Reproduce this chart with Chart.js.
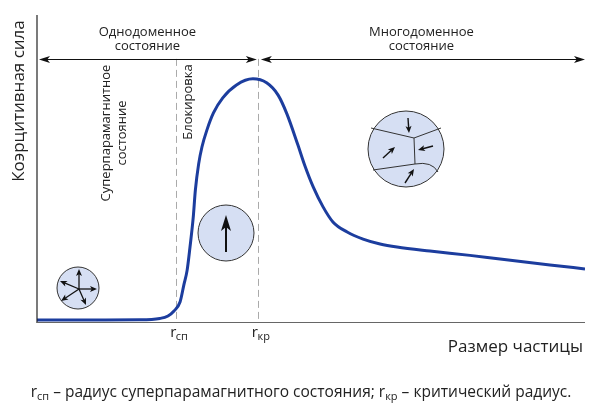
<!DOCTYPE html>
<html>
<head>
<meta charset="utf-8">
<script src="https://cdn.jsdelivr.net/npm/chart.js@4"></script>
<style>
  body { margin: 0; background: #fff; }
</style>
</head>
<body>
<canvas id="chart" width="600" height="415"></canvas>
<script>
// Particle size (arbitrary units across the axis) and coercive force (arbitrary units)
const particleSize = [0, 11.5, 18.8, 22.4, 23.9, 25.0, 26.1, 26.8, 27.4, 27.9, 28.5, 28.9, 29.5, 30.1, 31.0, 32.2, 33.9, 36.4, 39.4, 41.9, 44.0, 45.6, 47.6, 48.9, 50.4, 52.2, 54.0, 56.6, 59.5, 62.6, 65.7, 71.7, 79.0, 84.5, 93.6, 100];
const coercivity = [0.65, 0.65, 0.7, 1.14, 1.95, 3.58, 6.5, 12.1, 16.9, 24.1, 33.9, 43.0, 51.5, 57.0, 62.5, 68.1, 73.0, 77.2, 79.2, 77.9, 73.9, 67.8, 57.7, 50.8, 44.0, 37.5, 32.6, 29.3, 27.0, 25.4, 24.4, 23.1, 21.7, 20.5, 18.6, 17.3];

// Characteristic radii and their tick labels
const radii = [25.4, 40.3];
const tickLabels = ['r', 'r'];
const tickSubs = ['сп', 'кр'];
const arrowLevel = 85.7;

const regionLabels = [['Однодоменное', 'состояние'], ['Многодоменное', 'состояние']];
const yTitle = 'Коэрцитивная сила';
const xTitle = 'Размер частицы';
const FONT = '"Open Sans", sans-serif';

function arrowHead(ctx, x, y, angle, len, half) {
    ctx.save();
    ctx.translate(x, y);
    ctx.rotate(angle);
    ctx.beginPath();
    ctx.moveTo(0, 0);
    ctx.lineTo(-len, -half);
    ctx.lineTo(-len * 0.75, 0);
    ctx.lineTo(-len, half);
    ctx.closePath();
    ctx.fill();
    ctx.restore();
}

function arrow(ctx, x1, y1, x2, y2, w, len, half) {
    const a = Math.atan2(y2 - y1, x2 - x1);
    ctx.lineWidth = w;
    ctx.beginPath();
    ctx.moveTo(x1, y1);
    ctx.lineTo(x2 - Math.cos(a) * len * 0.7, y2 - Math.sin(a) * len * 0.7);
    ctx.stroke();
    arrowHead(ctx, x2, y2, a, len, half);
}

function disc(ctx, cx, cy, r) {
    ctx.beginPath();
    ctx.arc(cx, cy, r, 0, Math.PI * 2);
    ctx.fillStyle = '#d6dff3';
    ctx.fill();
    ctx.lineWidth = 1;
    ctx.strokeStyle = '#333';
    ctx.stroke();
}

const decor = {
    id: 'decor',
    beforeDatasetsDraw(chart) {
        const ctx = chart.ctx;
        const xs = chart.scales.x, ys = chart.scales.y;
        const top = ys.getPixelForValue(arrowLevel);
        const bottom = ys.getPixelForValue(0);
        ctx.save();
        ctx.strokeStyle = '#aaa';
        ctx.lineWidth = 1;
        ctx.setLineDash([7, 4]);
        radii.forEach(r => {
            const x = Math.round(xs.getPixelForValue(r)) + 0.5;
            ctx.beginPath();
            ctx.moveTo(x, top);
            ctx.lineTo(x, bottom);
            ctx.stroke();
        });
        ctx.restore();
    },
    afterDraw(chart) {
        const ctx = chart.ctx;
        const xs = chart.scales.x, ys = chart.scales.y;
        const x0 = xs.getPixelForValue(0), x1 = xs.getPixelForValue(100);
        const y0 = ys.getPixelForValue(0), y1 = ys.getPixelForValue(100);
        const xSp = xs.getPixelForValue(radii[0]);
        const xKr = xs.getPixelForValue(radii[1]);
        const yArr = Math.round(ys.getPixelForValue(arrowLevel)) + 0.5;
        ctx.save();

        // axes
        ctx.strokeStyle = '#222';
        ctx.lineWidth = 1.2;
        ctx.beginPath();
        ctx.moveTo(x0, y1);
        ctx.lineTo(x0, y0 + 1);
        ctx.stroke();
        ctx.strokeStyle = '#666';
        ctx.beginPath();
        ctx.moveTo(x0, y0 + 0.5);
        ctx.lineTo(x1, y0 + 0.5);
        ctx.stroke();

        // region arrows
        ctx.strokeStyle = '#111';
        ctx.fillStyle = '#111';
        arrow(ctx, xKr - 4, yArr, x0 + 2, yArr, 1, 11, 3.5);
        arrow(ctx, x0 + 6, yArr, xKr - 1, yArr, 1, 11, 3.5);
        arrow(ctx, x1 - 4, yArr, xKr + 3, yArr, 1, 11, 3.5);
        arrow(ctx, xKr + 8, yArr, x1, yArr, 1, 11, 3.5);

        // region titles
        ctx.fillStyle = '#222';
        ctx.font = '13px ' + FONT;
        ctx.textAlign = 'center';
        ctx.textBaseline = 'alphabetic';
        const centers = [(x0 + xKr) / 2, (xKr + x1) / 2];
        regionLabels.forEach((lines, i) => {
            lines.forEach((t, j) => ctx.fillText(t, centers[i], 36 + j * 14));
        });

        // rotated labels
        const vtext = (t, x, y, size) => {
            ctx.save();
            ctx.translate(x, y);
            ctx.rotate(-Math.PI / 2);
            ctx.font = size + 'px ' + FONT;
            ctx.textAlign = 'center';
            ctx.fillText(t, 0, 0);
            ctx.restore();
        };
        vtext(yTitle, 24, 101, 17);
        vtext('Суперпарамагнитное', 110, 133, 13);
        vtext('состояние', 126, 133, 13);
        vtext('Блокировка', xSp + 16, 102, 13);

        // x title
        ctx.font = '17px ' + FONT;
        ctx.textAlign = 'right';
        ctx.fillText(xTitle, x1 - 2, 352);

        // tick labels r_сп, r_кр
        radii.forEach((r, i) => {
            const x = xs.getPixelForValue(r);
            ctx.textAlign = 'left';
            ctx.font = '15px ' + FONT;
            const w1 = ctx.measureText(tickLabels[i]).width;
            const start = x - 6;
            ctx.fillText(tickLabels[i], start, 337);
            ctx.font = '11px ' + FONT;
            ctx.fillText(tickSubs[i], start + w1 - 0.5, 340);
        });

        // footer
        const parts = [
            ['r', 15.5, 0], ['сп', 11, 3], [' – радиус суперпарамагнитного состояния; ', 15.5, 0],
            ['r', 15.5, 0], ['кр', 11, 3], [' – критический радиус.', 15.5, 0]
        ];
        let total = 0;
        parts.forEach(p => { ctx.font = p[1] + 'px ' + FONT; total += ctx.measureText(p[0]).width; });
        let fx = 301 - total / 2;
        ctx.textAlign = 'left';
        parts.forEach(p => {
            ctx.font = p[1] + 'px ' + FONT;
            ctx.fillText(p[0], fx, 397 + p[2]);
            fx += ctx.measureText(p[0]).width;
        });

        // particle icons
        disc(ctx, 78, 288, 21);
        ctx.strokeStyle = '#111';
        ctx.fillStyle = '#111';
        [[79, 269], [97, 289], [86, 305], [61, 301], [60, 281]].forEach(p => arrow(ctx, 79, 289, p[0], p[1], 1.3, 7, 3));

        disc(ctx, 226, 233, 28);
        ctx.strokeStyle = '#111';
        ctx.fillStyle = '#111';
        arrow(ctx, 226, 252, 226, 215, 2, 16, 5);

        disc(ctx, 406, 149, 38);
        ctx.strokeStyle = '#333';
        ctx.lineWidth = 1;
        ctx.beginPath();
        ctx.moveTo(371, 128);
        ctx.lineTo(414, 138);
        ctx.lineTo(441, 128);
        ctx.moveTo(414, 138);
        ctx.lineTo(415, 164);
        ctx.moveTo(373, 170);
        ctx.lineTo(415, 164);
        ctx.quadraticCurveTo(432, 161, 438, 172);
        ctx.stroke();
        ctx.strokeStyle = '#111';
        ctx.fillStyle = '#111';
        arrow(ctx, 408, 118, 409, 133, 1.4, 7, 3);
        arrow(ctx, 383, 158, 395, 147, 1.4, 7, 3);
        arrow(ctx, 433, 146, 418, 150, 1.4, 7, 3);
        arrow(ctx, 405, 183, 414, 169, 1.4, 7, 3);

        ctx.restore();
    }
};

new Chart(document.getElementById('chart'), {
    type: 'line',
    data: {
        datasets: [{
            data: particleSize.map((x, i) => ({ x: x, y: coercivity[i] })),
            borderColor: '#1c3d9e',
            borderWidth: 3,
            pointRadius: 0,
            cubicInterpolationMode: 'monotone',
            fill: false
        }]
    },
    options: {
        responsive: false,
        animation: false,
        layout: { padding: { left: 37, right: 15, top: 15, bottom: 93 } },
        plugins: { legend: { display: false }, tooltip: { enabled: false } },
        scales: {
            x: { type: 'linear', min: 0, max: 100, display: false },
            y: { type: 'linear', min: 0, max: 100, display: false }
        }
    },
    plugins: [decor]
});
</script>
</body>
</html>
